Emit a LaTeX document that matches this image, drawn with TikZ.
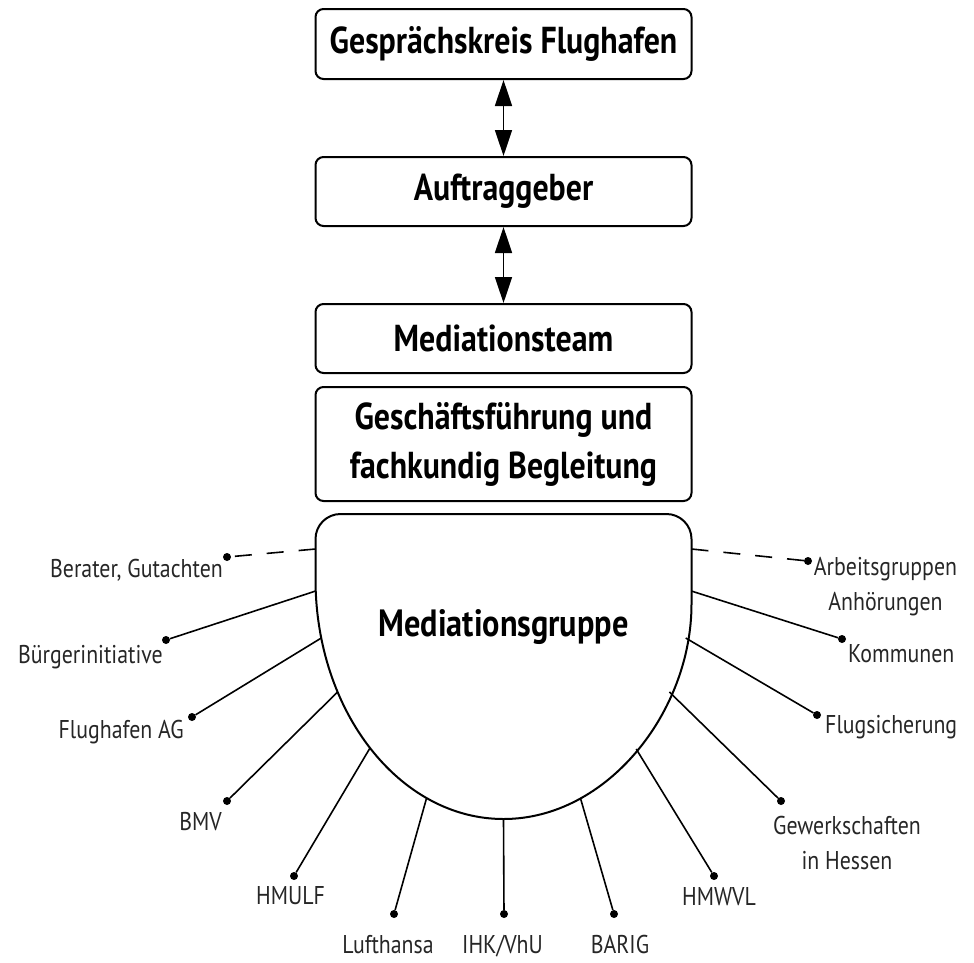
\documentclass[tikz,border=0pt]{standalone}
\usepackage{fontspec}
\setmainfont{PT Sans}
\newfontfamily\boxfont[FakeStretch=0.85]{PT Sans}
\newfontfamily\labfont[FakeStretch=0.85]{PT Sans}
\usetikzlibrary{arrows.meta}
\tikzset{
  box/.style={draw, line width=2pt, rounded corners=8pt, minimum width=376pt,
    font=\boxfont\bfseries\fontsize{37.5}{49}\selectfont, align=center, inner sep=0pt},
  bigtext/.style={font=\boxfont\bfseries\fontsize{38}{49}\selectfont, inner sep=0pt},
  lab/.style={font=\labfont\fontsize{25.7}{35}\selectfont, inner sep=0pt, text=black!85, align=center},
  dot/.style={circle, fill=black, inner sep=0pt, minimum size=8pt},
  conn/.style={line width=1.6pt},
  dconn/.style={line width=1.6pt, dash pattern=on 17pt off 15pt},
  dbl/.style={{Triangle[length=26pt,width=17pt]}-{Triangle[length=26pt,width=17pt]}, line width=1.5pt},
}
\begin{document}
\begin{tikzpicture}[x=1pt,y=-1pt]
\useasboundingbox (0,0) rectangle (974,962);

% top boxes
\node[box, minimum height=70pt] (gk) at (503.5,44) {Gesprächskreis Flughafen};
\node[box, minimum height=69pt] (ag) at (503.5,191.5) {Auftraggeber};
\node[box, minimum height=69pt] (mt) at (503.5,338.5) {Mediationsteam};
\node[box, minimum height=114pt] (gf) at (503.5,444) {Geschäftsführung und\\fachkundig Begleitung};

\draw[dbl] (gk) -- (ag);
\draw[dbl] (ag) -- (mt);

% Mediationsgruppe shape
\draw[line width=2pt, fill=white, rounded corners=25pt]
  (315.5,579) -- (315.5,514) -- (691.5,514) -- (691.5,579)
  [sharp corners] arc[start angle=0, end angle=-180, x radius=188pt, y radius=240pt] -- cycle;
\node[bigtext] (mg) at (503.5,627) {Mediationsgruppe};

% boundary points
\coordinate (bBer) at (315.5,549);
\coordinate (bBue) at (315.7,591);
\coordinate (bFAG) at (321.3,638);
\coordinate (bBMV) at (337.6,692);
\coordinate (bHMU) at (370.0,748);
\coordinate (bLuf) at (426.6,798);
\coordinate (bIHK) at (503.5,819);
\coordinate (bBAR) at (580.4,798);
\coordinate (bHMW) at (636.2,749);
\coordinate (bGew) at (669.4,692);
\coordinate (bFlu) at (685.7,638);
\coordinate (bKom) at (691.3,591);
\coordinate (bArb) at (691.5,549);

% dots
\node[dot] (dBer) at (227,557) {};
\node[dot] (dBue) at (166,640) {};
\node[dot] (dFAG) at (192,717) {};
\node[dot] (dBMV) at (227,801) {};
\node[dot] (dHMU) at (294,876) {};
\node[dot] (dLuf) at (394,914) {};
\node[dot] (dIHK) at (504,914) {};
\node[dot] (dBAR) at (614,914) {};
\node[dot] (dHMW) at (714,876) {};
\node[dot] (dGew) at (781,801) {};
\node[dot] (dFlu) at (817,715) {};
\node[dot] (dKom) at (842,639) {};
\node[dot] (dArb) at (808,561) {};

% connectors
\draw[dconn] (bBer) -- (dBer);
\draw[dconn] (bArb) -- (dArb);
\draw[conn] (bBue) -- (dBue);
\draw[conn] (bFAG) -- (dFAG);
\draw[conn] (bBMV) -- (dBMV);
\draw[conn] (bHMU) -- (dHMU);
\draw[conn] (bLuf) -- (dLuf);
\draw[conn] (bIHK) -- (dIHK);
\draw[conn] (bBAR) -- (dBAR);
\draw[conn] (bHMW) -- (dHMW);
\draw[conn] (bGew) -- (dGew);
\draw[conn] (bFlu) -- (dFlu);
\draw[conn] (bKom) -- (dKom);

% labels
\node[lab, anchor=base east] (lBer) at (223,577) {Berater, Gutachten};
\node[lab, anchor=base east] (lBue) at (163,663) {Bürgerinitiative};
\node[lab, anchor=base east] (lFAG) at (184,738) {Flughafen AG};
\node[lab, anchor=base east] (lBMV) at (222,830) {BMV};
\node[lab, anchor=base] (lHMU) at (290.5,904) {HMULF};
\node[lab, anchor=base] (lLuf) at (388,953) {Lufthansa};
\node[lab, anchor=base] (lIHK) at (502.5,953) {IHK/VhU};
\node[lab, anchor=base] (lBAR) at (620,953) {BARIG};
\node[lab, anchor=base] (lHMW) at (719,905) {HMWVL};
\node[lab] (lGew) at (847,843) {Gewerkschaften\\in Hessen};
\node[lab, anchor=base west] (lFlu) at (825,733) {Flugsicherung};
\node[lab, anchor=base west] (lKom) at (848,662) {Kommunen};
\node[lab] (lArb) at (885.5,587) {Arbeitsgruppen\\Anhörungen};
\end{tikzpicture}
\end{document}
